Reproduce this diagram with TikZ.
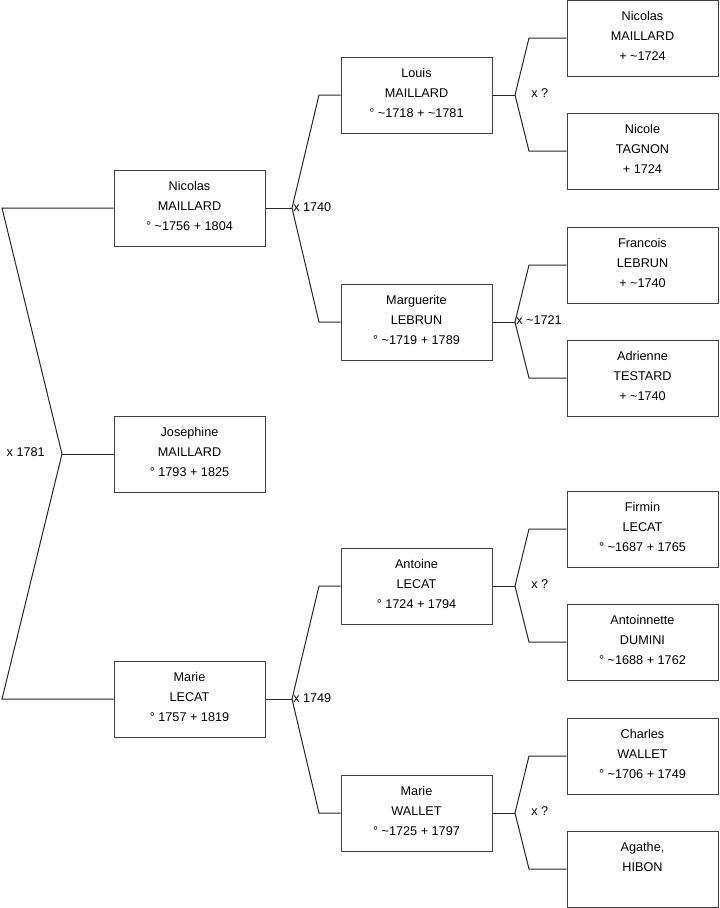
\documentclass[tikz,border=0pt]{standalone}
\usepackage{fontspec}
\setmainfont{Liberation Sans}
\begin{document}
\begin{tikzpicture}[x=0.75pt,y=-0.75pt,
  person/.style={draw=black!75,line width=0.75pt,minimum width=113.25pt,minimum height=57pt,
    inner sep=0pt,align=center,font=\fontsize{9.5}{15}\selectfont,
    execute at end node={\rule[-3.5pt]{0pt}{3.5pt}}},
  conn/.style={line width=0.75pt,draw=black!85},
  lbl/.style={font=\fontsize{9.5}{11}\selectfont,inner sep=0pt}]
\useasboundingbox (0,0) rectangle (719,908);
% generation 1
\node[person] (nic1) at (189.5,208) {Nicolas\\MAILLARD\\° \textasciitilde1756 + 1804};
\node[person] (jos)  at (189.5,454) {Josephine\\MAILLARD\\° 1793 + 1825};
\node[person] (mar1) at (189.5,699) {Marie\\LECAT\\° 1757 + 1819};
% generation 2
\node[person] (lou)  at (416.5,95)  {Louis\\MAILLARD\\° \textasciitilde1718 + \textasciitilde1781};
\node[person] (marg) at (416.5,322) {Marguerite\\LEBRUN\\° \textasciitilde1719 + 1789};
\node[person] (ant)  at (416.5,586) {Antoine\\LECAT\\° 1724 + 1794};
\node[person] (marw) at (416.5,813) {Marie\\WALLET\\° \textasciitilde1725 + 1797};
% generation 3
\node[person] (nic2) at (642.5,38)  {Nicolas\\MAILLARD\\+ \textasciitilde1724};
\node[person] (nico) at (642.5,151) {Nicole\\TAGNON\\+ 1724};
\node[person] (fra)  at (642.5,265) {Francois\\LEBRUN\\+ \textasciitilde1740};
\node[person] (adr)  at (642.5,378) {Adrienne\\TESTARD\\+ \textasciitilde1740};
\node[person] (fir)  at (642.5,529) {Firmin\\LECAT\\° \textasciitilde1687 + 1765};
\node[person] (atn)  at (642.5,642) {Antoinnette\\DUMINI\\° \textasciitilde1688 + 1762};
\node[person] (cha)  at (642.5,756) {Charles\\WALLET\\° \textasciitilde1706 + 1749};
\node[person] (aga)  at (642.5,869) {Agathe,\\HIBON\\\mbox{}};
% junction coordinates
\coordinate (j0) at (62,454);
\coordinate (j0a) at (2,208);
\coordinate (j0b) at (2,699);
\coordinate (j1) at (292,208);
\coordinate (j1a) at (319,95);
\coordinate (j1b) at (319,322);
\coordinate (j2) at (292,699);
\coordinate (j2a) at (319,586);
\coordinate (j2b) at (319,813);
\coordinate (k1) at (515,95);
\coordinate (k1a) at (529,38);
\coordinate (k1b) at (529,151);
\coordinate (k2) at (515,322);
\coordinate (k2a) at (529,265);
\coordinate (k2b) at (529,378);
\coordinate (k3) at (515,586);
\coordinate (k3a) at (529,529);
\coordinate (k3b) at (529,642);
\coordinate (k4) at (515,813);
\coordinate (k4a) at (529,756);
\coordinate (k4b) at (529,869);
% connectors
\draw[conn] (nic1.west) -- (j0a) -- (j0) -- (j0b) -- (mar1.west);
\draw[conn] (j0) -- (jos.west);
\draw[conn] (nic1.east) -- (j1);
\draw[conn] (lou.west) -- (j1a) -- (j1) -- (j1b) -- (marg.west);
\draw[conn] (mar1.east) -- (j2);
\draw[conn] (ant.west) -- (j2a) -- (j2) -- (j2b) -- (marw.west);
\draw[conn] (lou.east) -- (k1);
\draw[conn] (nic2.west) -- (k1a) -- (k1) -- (k1b) -- (nico.west);
\draw[conn] (marg.east) -- (k2);
\draw[conn] (fra.west) -- (k2a) -- (k2) -- (k2b) -- (adr.west);
\draw[conn] (ant.east) -- (k3);
\draw[conn] (fir.west) -- (k3a) -- (k3) -- (k3b) -- (atn.west);
\draw[conn] (marw.east) -- (k4);
\draw[conn] (cha.west) -- (k4a) -- (k4) -- (k4b) -- (aga.west);
% marriage labels
\node[lbl,anchor=east] (m0) at (45,452) {x 1781};
\node[lbl,anchor=west] (m1) at (293,207) {x 1740};
\node[lbl,anchor=west] (m2) at (293,698) {x 1749};
\node[lbl,anchor=west] (m3) at (531,93) {x ?};
\node[lbl,anchor=west] (m4) at (516,320) {x \textasciitilde1721};
\node[lbl,anchor=west] (m5) at (531,584) {x ?};
\node[lbl,anchor=west] (m6) at (531,811) {x ?};
\end{tikzpicture}
\end{document}
